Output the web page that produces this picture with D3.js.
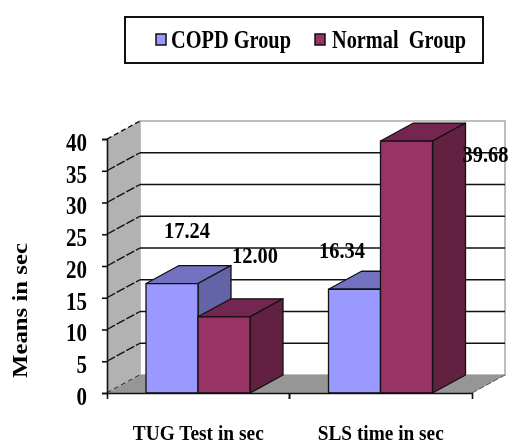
<!DOCTYPE html>
<html>
<head>
<meta charset="utf-8">
<script src="https://cdnjs.cloudflare.com/ajax/libs/d3/7.8.5/d3.min.js"></script>
<style>
body { margin: 0; background: #fff; }
svg { display: block; filter: blur(0.35px); }
text { font-family: "Liberation Serif", serif; font-weight: bold; fill: #000; }
</style>
</head>
<body>
<svg id="chart"></svg>
<script>
const categories = ['TUG Test in sec', 'SLS time in sec'];
const groups = ['COPD Group', 'Normal  Group'];
const copdValues = [17.24, 16.34];
const normalValues = [12.0, 39.68];
const valueLabels = [['17.24', '16.34'], ['12.00', '39.68']];
const yTicks = [0, 5, 10, 15, 20, 25, 30, 35, 40];

const width = 513;
const height = 445;

// oblique offset of the back wall
const depthX = 33;
const depthY = -18;

const frontColors = ['#9999ff', '#993366'];
const topColors = ['#7272c0', '#732650'];
const sideColors = ['#6363a6', '#632142'];

const svg = d3.select('#chart').attr('width', width).attr('height', height);

const y = d3.scaleLinear().domain([0, 40]).range([393, 139]);
const x0 = d3.scaleBand().domain(categories).range([107, 472]);
const x1 = d3.scaleBand().domain(groups).range([39, 143]);

const poly = (pts) => pts.map((p) => p.join(',')).join(' ');
const xLeft = x0.range()[0];
const xRight = x0.range()[1];

// back wall and its grid
svg.append('rect')
	.attr('x', xLeft + depthX)
	.attr('y', y(40) + depthY)
	.attr('width', xRight - xLeft)
	.attr('height', y(0) - y(40))
	.attr('fill', '#fff')
	.attr('stroke', '#a8a8a8')
	.attr('stroke-width', 1.5);

svg.append('g')
	.selectAll('line')
	.data(yTicks.slice(1, -1))
	.enter()
	.append('line')
	.attr('x1', xLeft + depthX)
	.attr('x2', xRight + depthX)
	.attr('y1', (d) => y(d) + depthY)
	.attr('y2', (d) => y(d) + depthY)
	.attr('stroke', '#111')
	.attr('stroke-width', 1.6);

// left wall
svg.append('polygon')
	.attr('points', poly([
		[xLeft, y(0)],
		[xLeft, y(40)],
		[xLeft + depthX, y(40) + depthY],
		[xLeft + depthX, y(0) + depthY]
	]))
	.attr('fill', '#b2b2b2');

svg.append('g')
	.selectAll('line')
	.data(yTicks)
	.enter()
	.append('line')
	.attr('x1', xLeft)
	.attr('x2', xLeft + depthX)
	.attr('y1', (d) => y(d))
	.attr('y2', (d) => y(d) + depthY)
	.attr('stroke', '#111')
	.attr('stroke-width', 1.4)
	.attr('stroke-dasharray', (d) => (d === 0 || d === 40 ? '5,3' : '9,2'));

// floor
svg.append('polygon')
	.attr('points', poly([
		[xLeft, y(0)],
		[xRight, y(0)],
		[xRight + depthX, y(0) + depthY],
		[xLeft + depthX, y(0) + depthY]
	]))
	.attr('fill', '#969696');

svg.append('line')
	.attr('x1', xRight)
	.attr('x2', xRight + depthX)
	.attr('y1', y(0))
	.attr('y2', y(0) + depthY)
	.attr('stroke', '#555')
	.attr('stroke-dasharray', '6,2');

// bars
const series = [copdValues, normalValues];
const barData = [];
categories.forEach((cat, c) => {
	series.forEach((values, s) => {
		barData.push({ cat: cat, group: groups[s], s: s, value: values[c] });
	});
});

const bars = svg.append('g')
	.selectAll('g')
	.data(barData)
	.enter()
	.append('g')
	.attr('stroke', '#111')
	.attr('stroke-width', 1.3)
	.attr('stroke-linejoin', 'round');

const barL = (d) => x0(d.cat) + x1(d.group);
const barR = (d) => barL(d) + x1.bandwidth();

bars.append('polygon')
	.attr('fill', (d) => topColors[d.s])
	.attr('points', (d) => poly([
		[barL(d), y(d.value)],
		[barR(d), y(d.value)],
		[barR(d) + depthX, y(d.value) + depthY],
		[barL(d) + depthX, y(d.value) + depthY]
	]));

bars.append('polygon')
	.attr('fill', (d) => sideColors[d.s])
	.attr('points', (d) => poly([
		[barR(d), y(0)],
		[barR(d), y(d.value)],
		[barR(d) + depthX, y(d.value) + depthY],
		[barR(d) + depthX, y(0) + depthY]
	]));

bars.append('rect')
	.attr('fill', (d) => frontColors[d.s])
	.attr('x', barL)
	.attr('y', (d) => y(d.value))
	.attr('width', x1.bandwidth())
	.attr('height', (d) => y(0) - y(d.value));

// axes
const yAxis = svg.append('g')
	.attr('transform', `translate(${xLeft},0)`)
	.call(d3.axisLeft(y).tickValues(yTicks).tickSize(5).tickPadding(15));

const xAxis = svg.append('g')
	.attr('transform', `translate(0,${y(0)})`)
	.call(d3.axisBottom(x0).tickSizeOuter(6).tickSize(6).tickPadding(26));

[yAxis, xAxis].forEach((a) => {
	a.selectAll('line, path').attr('stroke', '#111').attr('stroke-width', 1.6);
	a.selectAll('text').style('font-family', '"Liberation Serif", serif');
});
yAxis.selectAll('text')
	.style('font-size', '26px')
	.attr('y', 3)
	.attr('textLength', (d) => (d < 10 ? 10.5 : 21))
	.attr('lengthAdjust', 'spacingAndGlyphs');
xAxis.selectAll('text')
	.style('font-size', '20.5px')
	.attr('textLength', (d, i) => (i === 0 ? 131 : 126))
	.attr('lengthAdjust', 'spacingAndGlyphs');

// d3 puts band ticks at the centre, the chart has them between the categories
xAxis.selectAll('.tick line').attr('transform', `translate(${x0.step() / 2},0)`);
xAxis.selectAll('.tick').filter((d, i) => i === 1).select('line').attr('transform', `translate(${-x0.step() / 2},0)`);

svg.append('text')
	.attr('transform', 'translate(27,310.5) rotate(-90)')
	.attr('text-anchor', 'middle')
	.style('font-size', '22px')
	.attr('textLength', 135)
	.attr('lengthAdjust', 'spacingAndGlyphs')
	.text('Means in sec');

// value labels, placed by hand like the original
const labelOffsets = [[[15, -45.5], [-12.5, -31]], [[31, -54], [79, 21]]];
series.forEach((values, s) => {
	values.forEach((v, c) => {
		svg.append('text')
			.attr('x', x0(categories[c]) + x1(groups[s]) + x1.bandwidth() / 2 + labelOffsets[s][c][0])
			.attr('y', y(v) + labelOffsets[s][c][1])
			.attr('text-anchor', 'middle')
			.attr('textLength', 46)
			.attr('lengthAdjust', 'spacingAndGlyphs')
			.style('font-size', '23px')
			.text(valueLabels[s][c]);
	});
});

// legend
const legend = svg.append('g');
legend.append('rect')
	.attr('x', 125).attr('y', 17)
	.attr('width', 358).attr('height', 46)
	.attr('fill', '#fff')
	.attr('stroke', '#111')
	.attr('stroke-width', 2);

const legendX = d3.scaleOrdinal().domain(groups).range([156, 315]);
const legendLen = d3.scaleOrdinal().domain(groups).range([120, 134]);
const items = legend.selectAll('g')
	.data(groups)
	.enter()
	.append('g')
	.attr('transform', (d) => `translate(${legendX(d)},34)`);

items.append('rect')
	.attr('width', 10).attr('height', 11)
	.attr('fill', (d, i) => frontColors[i])
	.attr('stroke', '#111')
	.attr('stroke-width', 1.5);

items.append('text')
	.attr('x', (d, i) => (i === 0 ? 15 : 17)).attr('y', 14)
	.attr('xml:space', 'preserve')
	.attr('textLength', legendLen)
	.attr('lengthAdjust', 'spacingAndGlyphs')
	.style('white-space', 'pre')
	.style('font-size', '25px')
	.text((d) => d);
</script>
</body>
</html>
